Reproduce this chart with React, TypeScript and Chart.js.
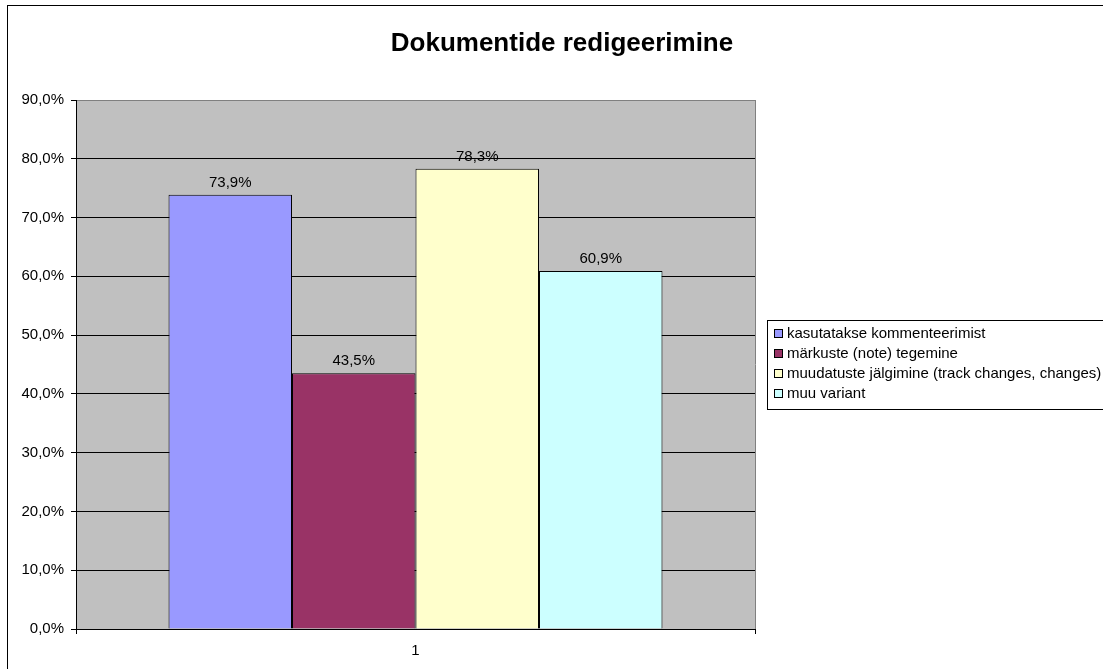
import React, { useEffect, useRef } from 'react';
import { Chart, registerables } from 'chart.js';

Chart.register(...registerables);

const TITLE = 'Dokumentide redigeerimine';
const categories = ['1'];
const seriesNames = [
  'kasutatakse kommenteerimist',
  'märkuste (note) tegemine',
  'muudatuste jälgimine (track changes, changes)',
  'muu variant',
];
const seriesValues = [73.9, 43.5, 78.3, 60.9];
const seriesColors = ['#9999FF', '#993366', '#FFFFCC', '#CCFFFF'];
const yMin = 0;
const yMax = 90;
const yStep = 10;

const FONT = "'Liberation Sans', Arial, sans-serif";
const W = 1103;
const H = 669;

const fmt = (v: number) => v.toFixed(1).replace('.', ',') + '%';

const decorPlugin = {
  id: 'decor',
  beforeDraw(chart: any) {
    const { ctx, chartArea } = chart;
    ctx.save();
    ctx.fillStyle = '#FFFFFF';
    ctx.fillRect(0, 0, chart.width, chart.height);
    ctx.strokeStyle = '#000000';
    ctx.lineWidth = 1;
    ctx.strokeRect(7.5, 5.5, 1110, 700);
    ctx.fillStyle = '#C0C0C0';
    ctx.fillRect(chartArea.left, chartArea.top, chartArea.right - chartArea.left, chartArea.bottom - chartArea.top);
    // title
    ctx.fillStyle = '#000000';
    ctx.font = `bold 26px ${FONT}`;
    ctx.textAlign = 'center';
    ctx.textBaseline = 'alphabetic';
    ctx.fillText(TITLE, 562, 51);
    ctx.restore();
  },
  afterDraw(chart: any) {
    const { ctx, chartArea } = chart;
    ctx.save();
    // plot area right border
    ctx.strokeStyle = '#808080';
    ctx.lineWidth = 1;
    ctx.beginPath();
    ctx.moveTo(Math.round(chartArea.right) + 0.5, chartArea.top);
    ctx.lineTo(Math.round(chartArea.right) + 0.5, chartArea.bottom);
    ctx.stroke();
    // data labels
    ctx.fillStyle = '#000000';
    ctx.font = `15px ${FONT}`;
    ctx.textAlign = 'center';
    ctx.textBaseline = 'alphabetic';
    chart.data.datasets.forEach((ds: any, i: number) => {
      const meta = chart.getDatasetMeta(i);
      meta.data.forEach((bar: any, j: number) => {
        ctx.fillText(fmt(ds.data[j]), bar.x, bar.y - 8);
      });
    });
    // legend
    const lx = 767;
    const ly = 320;
    ctx.strokeStyle = '#000000';
    ctx.strokeRect(lx + 0.5, ly + 0.5, 400, 89);
    ctx.font = `15px ${FONT}`;
    ctx.textAlign = 'left';
    ctx.textBaseline = 'middle';
    chart.data.datasets.forEach((ds: any, i: number) => {
      const cy = 333 + i * 20;
      ctx.fillStyle = ds.backgroundColor;
      ctx.fillRect(774, cy - 4, 8, 8);
      ctx.strokeStyle = '#000000';
      ctx.strokeRect(774.5, cy - 3.5, 8, 8);
      ctx.fillStyle = '#000000';
      ctx.fillText(ds.label, 787, cy + 1);
    });
    ctx.restore();
  },
};

export default function App() {
  const ref = useRef<HTMLCanvasElement>(null);
  useEffect(() => {
    if (!ref.current) return;
    const chart = new Chart(ref.current, {
      type: 'bar',
      data: {
        labels: categories,
        datasets: seriesNames.map((name, i) => ({
          label: name,
          data: [seriesValues[i]],
          backgroundColor: seriesColors[i],
          borderColor: '#000000',
          borderWidth: 1,
          categoryPercentage: 0.7275,
          barPercentage: 1,
        })),
      },
      options: {
        responsive: false,
        animation: false,
        devicePixelRatio: 1,
        layout: { padding: { left: 0, top: 100, right: W - 755, bottom: 0 } },
        plugins: {
          legend: { display: false },
          title: { display: false },
          tooltip: { enabled: false },
        },
        scales: {
          x: {
            afterFit: (s: any) => { s.height = 40; },
            grid: { drawOnChartArea: false, drawTicks: true, tickLength: 5, color: '#000000', offset: true },
            border: { display: true, color: '#000000' },
            ticks: { color: '#000000', font: { family: FONT, size: 15 }, padding: 8 },
          },
          y: {
            min: yMin,
            max: yMax,
            afterFit: (s: any) => { s.width = 76; },
            grid: {
              color: (c: any) => (c.tick && c.tick.value === yMax ? '#808080' : '#000000'),
              tickColor: '#000000',
              tickLength: 5,
              drawTicks: true,
            },
            border: { display: true, color: '#000000' },
            ticks: {
              stepSize: yStep,
              color: '#000000',
              font: { family: FONT, size: 15 },
              padding: 7,
              callback: (v: any) => fmt(Number(v)),
            },
          },
        },
      },
      plugins: [decorPlugin],
    });
    return () => chart.destroy();
  }, []);
  return (
    <div style={{ position: 'fixed', left: 0, top: 0, width: W, height: H, overflow: 'hidden', background: '#fff' }}>
      <canvas ref={ref} width={W} height={H} style={{ display: 'block' }} />
    </div>
  );
}
